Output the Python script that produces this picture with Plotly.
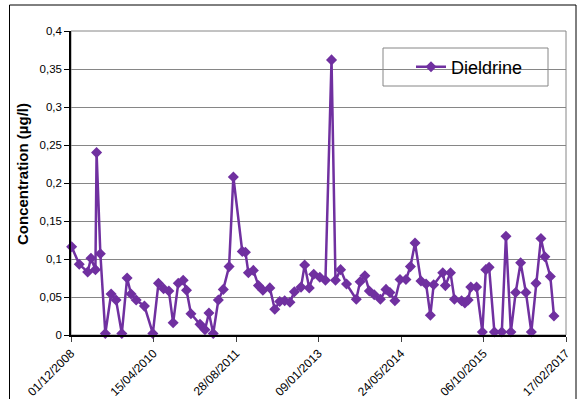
import plotly.graph_objects as go

# ---------------- data ----------------
dates = [
    "2008-12-05", "2009-01-20", "2009-03-12", "2009-04-01", "2009-04-28", "2009-05-05",
    "2009-05-28", "2009-06-27", "2009-08-01", "2009-08-31", "2009-10-05", "2009-11-06",
    "2009-11-30", "2009-12-31", "2010-02-19", "2010-04-11", "2010-05-15", "2010-06-15",
    "2010-07-17", "2010-08-12", "2010-09-12", "2010-10-12", "2010-11-01", "2010-11-28",
    "2011-01-22", "2011-02-21", "2011-03-17", "2011-04-12", "2011-05-13", "2011-06-12",
    "2011-07-17", "2011-08-12", "2011-10-05", "2011-10-24", "2011-11-11", "2011-12-11",
    "2012-01-11", "2012-02-07", "2012-03-20", "2012-04-19", "2012-05-19", "2012-06-18",
    "2012-07-20", "2012-08-16", "2012-09-25", "2012-10-17", "2012-11-14", "2012-12-11",
    "2013-01-17", "2013-02-20", "2013-03-29", "2013-04-22", "2013-05-23", "2013-06-28",
    "2013-08-26", "2013-09-18", "2013-10-17", "2013-11-13", "2013-12-13", "2014-01-19",
    "2014-02-22", "2014-03-18", "2014-04-17", "2014-05-18", "2014-06-23", "2014-07-20",
    "2014-08-17", "2014-09-22", "2014-10-23", "2014-11-18", "2014-12-08", "2015-02-01",
    "2015-02-17", "2015-03-20", "2015-04-13", "2015-05-26", "2015-06-15", "2015-07-05",
    "2015-07-21", "2015-08-25", "2015-09-29", "2015-10-20", "2015-11-09", "2015-12-11",
    "2016-01-25", "2016-02-19", "2016-03-20", "2016-04-18", "2016-05-18", "2016-06-19",
    "2016-07-22", "2016-08-19", "2016-09-18", "2016-10-12", "2016-11-14", "2016-12-06",
]
dieldrine = [
    0.116, 0.093, 0.083, 0.101, 0.086, 0.240,
    0.107, 0.002, 0.054, 0.046, 0.002, 0.075,
    0.054, 0.046, 0.038, 0.002, 0.068, 0.061,
    0.058, 0.016, 0.068, 0.072, 0.059, 0.028,
    0.014, 0.007, 0.029, 0.002, 0.046, 0.060,
    0.090, 0.208, 0.110, 0.109, 0.082, 0.085,
    0.065, 0.059, 0.062, 0.034, 0.044, 0.045,
    0.043, 0.057, 0.063, 0.092, 0.062, 0.080,
    0.076, 0.072, 0.362, 0.072, 0.086, 0.067,
    0.047, 0.070, 0.078, 0.058, 0.053, 0.047,
    0.060, 0.056, 0.045, 0.073, 0.073, 0.090,
    0.121, 0.071, 0.067, 0.026, 0.066, 0.082,
    0.065, 0.082, 0.047, 0.045, 0.042, 0.046,
    0.063, 0.063, 0.004, 0.086, 0.089, 0.004,
    0.004, 0.130, 0.004, 0.056, 0.095, 0.056,
    0.004, 0.068, 0.127, 0.103, 0.077, 0.025,
]

x_tick_vals = ["2008-12-01", "2010-04-15", "2011-08-28", "2013-01-09",
               "2014-05-24", "2015-10-06", "2017-02-17"]
x_tick_text = ["01/12/2008", "15/04/2010", "28/08/2011", "09/01/2013",
               "24/05/2014", "06/10/2015", "17/02/2017"]
y_tick_vals = [0, 0.05, 0.1, 0.15, 0.2, 0.25, 0.3, 0.35, 0.4]
y_tick_text = ["0", "0,05", "0,1", "0,15", "0,2", "0,25", "0,3", "0,35", "0,4"]

# ---------------- layout constants ----------------
W, H = 585, 400
ML, MR, MT, MB = 71, 19, 31, 65
PW, PH = W - ML - MR, H - MT - MB
PURPLE = "#7030A0"
GRID = "#868686"
FONT = "Liberation Sans, Arial, sans-serif"


def px_x(px):
    return (px - ML) / PW


def px_y(py):
    return (H - MB - py) / PH


fig = go.Figure()
fig.add_trace(go.Scatter(
    x=dates, y=dieldrine, mode="lines+markers", name="Dieldrine",
    line=dict(color=PURPLE, width=2.5),
    marker=dict(symbol="diamond", size=8.5, color=PURPLE),
    cliponaxis=False,
))

shapes = [
    # plot area border (grey)
    dict(type="rect", xref="paper", yref="paper", x0=0, x1=1, y0=0, y1=1,
         line=dict(color=GRID, width=1), layer="below"),
    # legend box
    dict(type="rect", xref="paper", yref="paper",
         x0=px_x(383), x1=px_x(548), y0=px_y(86), y1=px_y(48),
         line=dict(color=GRID, width=1), fillcolor="white", layer="between"),
    # outer chart frame (left, top, right)
    dict(type="line", xref="paper", yref="paper",
         x0=px_x(9.5), x1=px_x(9.5), y0=px_y(5), y1=px_y(399),
         line=dict(color="black", width=1), layer="above"),
    dict(type="line", xref="paper", yref="paper",
         x0=px_x(9.5), x1=px_x(576), y0=px_y(5), y1=px_y(5),
         line=dict(color="black", width=1), layer="above"),
    dict(type="line", xref="paper", yref="paper",
         x0=px_x(576), x1=px_x(576), y0=px_y(5), y1=px_y(399),
         line=dict(color="black", width=1), layer="above"),
]

fig.update_layout(
    width=W, height=H,
    margin=dict(l=ML, r=MR, t=MT, b=MB, pad=0, autoexpand=False),
    paper_bgcolor="white", plot_bgcolor="white",
    font=dict(family=FONT, color="black"),
    showlegend=True,
    legend=dict(x=px_x(411), y=px_y(67), xanchor="left", yanchor="middle",
                bgcolor="rgba(0,0,0,0)", borderwidth=0,
                font=dict(size=18, family=FONT, color="black")),
    shapes=shapes,
    annotations=[dict(
        text="<b>Concentration (µg/l)</b>", xref="paper", yref="paper",
        x=px_x(22), y=px_y(174), xanchor="center", yanchor="middle",
        textangle=-90, showarrow=False,
        font=dict(size=15, family=FONT, color="black"),
    )],
    xaxis=dict(
        type="date", range=["2008-12-01", "2017-02-17"], automargin=False,
        tickvals=x_tick_vals, ticktext=x_tick_text, tickangle=-45,
        ticks="outside", ticklen=5, tickcolor="#404040", tickwidth=1,
        showgrid=False, zeroline=False,
        showline=True, linecolor="black", linewidth=1.5,
        tickfont=dict(size=12, family=FONT, color="black"),
    ),
    yaxis=dict(
        range=[0, 0.4], tickvals=y_tick_vals, ticktext=y_tick_text, automargin=False,
        ticks="outside", ticklen=5, tickcolor="black", tickwidth=1,
        showgrid=True, gridcolor=GRID, gridwidth=1, zeroline=False,
        showline=True, linecolor="black", linewidth=1.5,
        tickfont=dict(size=11.5, family=FONT, color="black"),
    ),
)

fig.write_html(
    "out.html",
    config={"displayModeBar": False},
    post_script="document.body.style.margin='0px';document.body.style.overflow='hidden';",
)
